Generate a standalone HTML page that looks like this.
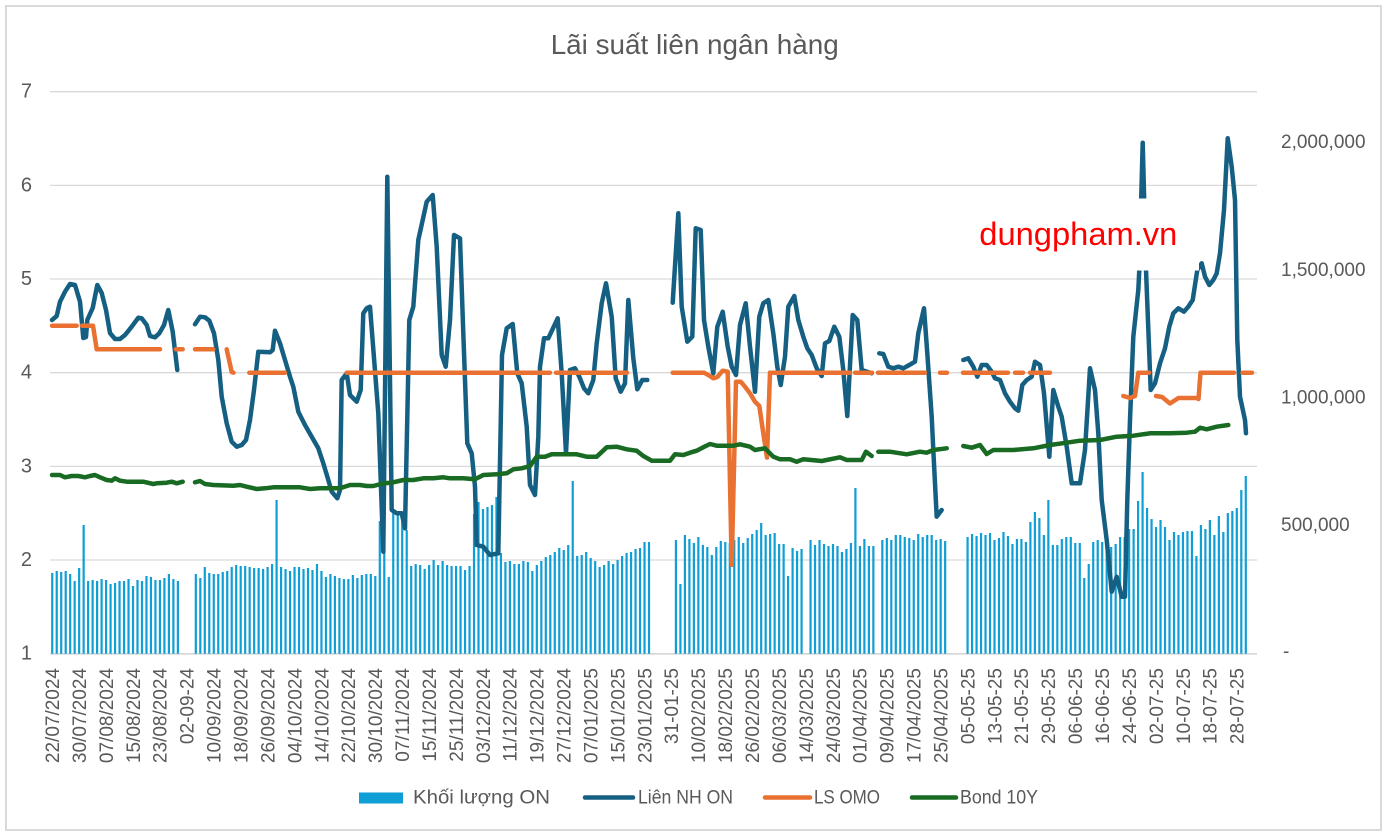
<!DOCTYPE html>
<html><head><meta charset="utf-8"><style>
html,body{margin:0;padding:0;background:#fff;}
svg{display:block;font-family:"Liberation Sans","DejaVu Sans",sans-serif;}
</style></head><body>
<svg width="1387" height="837" viewBox="0 0 1387 837" xmlns="http://www.w3.org/2000/svg">
<rect x="0" y="0" width="1387" height="837" fill="#fff"/>
<rect x="6" y="6" width="1375" height="824" fill="none" stroke="#d9d9d9" stroke-width="2"/>
<text x="550.7" y="54" font-size="28" fill="#595959" textLength="288" lengthAdjust="spacingAndGlyphs">Lãi suất liên ngân hàng</text>
<g stroke="#d9d9d9" stroke-width="1.3">
<line x1="50" y1="91.7" x2="1257" y2="91.7"/>
<line x1="50" y1="185.4" x2="1257" y2="185.4"/>
<line x1="50" y1="279" x2="1257" y2="279"/>
<line x1="50" y1="372.7" x2="1257" y2="372.7"/>
<line x1="50" y1="466.4" x2="1257" y2="466.4"/>
<line x1="50" y1="560" x2="1257" y2="560"/>
</g>
<line x1="50" y1="653.9" x2="1257" y2="653.9" stroke="#d9d9d9" stroke-width="1.8"/>
<g font-size="20" fill="#595959" text-anchor="end">
<text x="32" y="97.7">7</text>
<text x="32" y="191.4">6</text>
<text x="32" y="285">5</text>
<text x="32" y="378.7">4</text>
<text x="32" y="472.4">3</text>
<text x="32" y="566">2</text>
<text x="32" y="659.7">1</text>
</g>
<g font-size="19" fill="#595959">
<text x="1281" y="148.2">2,000,000</text>
<text x="1281" y="275.8">1,500,000</text>
<text x="1281" y="403.4">1,000,000</text>
<text x="1281" y="531">500,000</text>
<text x="1283" y="657.5">-</text>
</g>
<path fill="none" stroke="#0F9ED5" stroke-width="2.2" d="M52.24 653.7
V573V653.7m4.487 0V571V653.7m4.487 0V572V653.7m4.487 0V571V653.7m4.487 0V574V653.7m4.487 0V581V653.7m4.487 0V568V653.7m4.487 0V525V653.7m4.487 0V581V653.7m4.487 0V580V653.7m4.487 0
V581V653.7m4.487 0V579V653.7m4.487 0V580V653.7m4.487 0V584V653.7m4.487 0V583V653.7m4.487 0V581V653.7m4.487 0V581V653.7m4.487 0V579V653.7m4.487 0V586V653.7m4.487 0V580V653.7m4.487 0
V581V653.7m4.487 0V576V653.7m4.487 0V577V653.7m4.487 0V580V653.7m4.487 0V580V653.7m4.487 0V578V653.7m4.487 0V574V653.7m4.487 0V579V653.7m4.487 0V581V653.7m4.487 0
m4.487 0m4.487 0m4.487 0
V574V653.7m4.487 0V578V653.7m4.487 0V567V653.7m4.487 0V573V653.7m4.487 0V574V653.7m4.487 0V574V653.7m4.487 0V572V653.7m4.487 0V571V653.7m4.487 0V567V653.7m4.487 0V565V653.7m4.487 0
V566V653.7m4.487 0V566V653.7m4.487 0V567V653.7m4.487 0V568V653.7m4.487 0V568V653.7m4.487 0V569V653.7m4.487 0V567V653.7m4.487 0V564V653.7m4.487 0V500V653.7m4.487 0V567V653.7m4.487 0
V569V653.7m4.487 0V571V653.7m4.487 0V567V653.7m4.487 0V567V653.7m4.487 0V569V653.7m4.487 0V568V653.7m4.487 0V570V653.7m4.487 0V564V653.7m4.487 0V571V653.7m4.487 0V577V653.7m4.487 0
V574V653.7m4.487 0V576V653.7m4.487 0V578V653.7m4.487 0V579V653.7m4.487 0V579V653.7m4.487 0V575V653.7m4.487 0V578V653.7m4.487 0V575V653.7m4.487 0V574V653.7m4.487 0V574V653.7m4.487 0
V576V653.7m4.487 0V521V653.7m4.487 0V550V653.7m4.487 0V577V653.7m4.487 0V509V653.7m4.487 0V512V653.7m4.487 0V513V653.7m4.487 0V530V653.7m4.487 0V566V653.7m4.487 0V564V653.7m4.487 0
V565V653.7m4.487 0V569V653.7m4.487 0V565V653.7m4.487 0V560V653.7m4.487 0V565V653.7m4.487 0V561V653.7m4.487 0V565V653.7m4.487 0V566V653.7m4.487 0V566V653.7m4.487 0V566V653.7m4.487 0
V570V653.7m4.487 0V566V653.7m4.487 0V514V653.7m4.487 0V502V653.7m4.487 0V509V653.7m4.487 0V507V653.7m4.487 0V505V653.7m4.487 0V497V653.7m4.487 0V553V653.7m4.487 0V562V653.7m4.487 0
V561V653.7m4.487 0V564V653.7m4.487 0V564V653.7m4.487 0V561V653.7m4.487 0V562V653.7m4.487 0V571V653.7m4.487 0V565V653.7m4.487 0V561V653.7m4.487 0V557V653.7m4.487 0V555V653.7m4.487 0
V552V653.7m4.487 0V548V653.7m4.487 0V550V653.7m4.487 0V545V653.7m4.487 0V481V653.7m4.487 0V556V653.7m4.487 0V555V653.7m4.487 0V552V653.7m4.487 0V558V653.7m4.487 0V561V653.7m4.487 0
V567V653.7m4.487 0V565V653.7m4.487 0V561V653.7m4.487 0V564V653.7m4.487 0V560V653.7m4.487 0V556V653.7m4.487 0V553V653.7m4.487 0V552V653.7m4.487 0V549V653.7m4.487 0V548V653.7m4.487 0
V542V653.7m4.487 0V542V653.7m4.487 0
m4.487 0m4.487 0m4.487 0m4.487 0m4.487 0
V540V653.7m4.487 0V584V653.7m4.487 0V535V653.7m4.487 0V539V653.7m4.487 0V543V653.7m4.487 0V537V653.7m4.487 0V545V653.7m4.487 0V547V653.7m4.487 0V555V653.7m4.487 0V547V653.7m4.487 0
V541V653.7m4.487 0V542V653.7m4.487 0V543V653.7m4.487 0V540V653.7m4.487 0V537V653.7m4.487 0V543V653.7m4.487 0V538V653.7m4.487 0V534V653.7m4.487 0V530V653.7m4.487 0V523V653.7m4.487 0
V535V653.7m4.487 0V534V653.7m4.487 0V533V653.7m4.487 0V544V653.7m4.487 0V544V653.7m4.487 0V576V653.7m4.487 0V548V653.7m4.487 0V551V653.7m4.487 0V549V653.7m4.487 0
m4.487 0
V540V653.7m4.487 0V545V653.7m4.487 0V540V653.7m4.487 0V544V653.7m4.487 0V546V653.7m4.487 0V544V653.7m4.487 0V546V653.7m4.487 0V552V653.7m4.487 0V549V653.7m4.487 0V543V653.7m4.487 0
V488V653.7m4.487 0V546V653.7m4.487 0V539V653.7m4.487 0V546V653.7m4.487 0V546V653.7m4.487 0
m4.487 0
V540V653.7m4.487 0V538V653.7m4.487 0V540V653.7m4.487 0V535V653.7m4.487 0V535V653.7m4.487 0V537V653.7m4.487 0V538V653.7m4.487 0V540V653.7m4.487 0V534V653.7m4.487 0V537V653.7m4.487 0
V535V653.7m4.487 0V535V653.7m4.487 0V540V653.7m4.487 0V539V653.7m4.487 0V541V653.7m4.487 0
m4.487 0m4.487 0m4.487 0m4.487 0
V537V653.7m4.487 0V534V653.7m4.487 0V536V653.7m4.487 0V533V653.7m4.487 0V535V653.7m4.487 0V533V653.7m4.487 0V540V653.7m4.487 0V538V653.7m4.487 0V532V653.7m4.487 0V536V653.7m4.487 0
V544V653.7m4.487 0V539V653.7m4.487 0V539V653.7m4.487 0V542V653.7m4.487 0V522V653.7m4.487 0V512V653.7m4.487 0V518V653.7m4.487 0V535V653.7m4.487 0
V500V653.7m4.487 0V545V653.7m4.487 0V545V653.7m4.487 0V539V653.7m4.487 0V537V653.7m4.487 0V537V653.7m4.487 0V543V653.7m4.487 0V543V653.7m4.487 0V578V653.7m4.487 0V564V653.7m4.487 0
V542V653.7m4.487 0V540V653.7m4.487 0V542V653.7m4.487 0V545V653.7m4.487 0V547V653.7m4.487 0V544V653.7m4.487 0V537V653.7m4.487 0V537V653.7m4.487 0V529V653.7m4.487 0V529V653.7m4.487 0
V501V653.7m4.487 0V472V653.7m4.487 0V508V653.7m4.487 0V519V653.7m4.487 0V527V653.7m4.487 0V520V653.7m4.487 0V527V653.7m4.487 0V540V653.7m4.487 0V532V653.7m4.487 0V535V653.7m4.487 0
V532V653.7m4.487 0V531V653.7m4.487 0V531V653.7m4.487 0V556V653.7m4.487 0V525V653.7m4.487 0V529V653.7m4.487 0V520V653.7m4.487 0V535V653.7m4.487 0V516V653.7m4.487 0V532V653.7m4.487 0
V513V653.7m4.487 0V511V653.7m4.487 0V508V653.7m4.487 0V490V653.7m4.487 0V476V653.7"/>
<g fill="none" stroke-width="4.5" stroke-linejoin="round" stroke-linecap="round">
<path stroke="#156082" d="M52 320L56.7 316L60 301.7L65 291.7L70 284L75 285L80 301.7L83.3 338L86 337L87.3 320L92.7 308L97.3 285L101.7 293L106 310L110 333L115 339L120 339L125 335L131.7 326.7L138.3 317.7L141.7 318.3L146.7 325L150 336L155 337.3L159.3 333.3L164 325L168.3 310L172.7 331.7L177.3 370
M195 324.3L200 316.7L205 317.3L209.3 320.7L214 333.3L218.3 360L221.7 396.7L226.7 423.3L231.7 441.7L236.7 446.7L241.7 445L246 440L250 420L254 390L258.3 351.7L270 352.3L272.7 350L275 330.7L280 343.3L285 360L290 376.7L293.3 386.7L298.3 411.7L305 425L311.7 436.7L318.3 448.3L323.3 463.3L328.3 480L331.7 491.7L337.3 498.3L340 490L341.7 380L346.7 373.3L350 395L356.7 401.7L360.7 390L363.3 313.3L366.7 308.3L370 306.7L378.3 413.3L383.3 551.7L387.3 176.7L391.7 510L396.7 513.3L401.7 513.3L405 528.3L409.3 320L413.3 306.7L418.3 240L422.7 220L426.7 201.7L432.7 195L436.7 246.7L441.7 355L445.7 366.7L450 320L454 235L460 238.3L463.3 333.3L467.3 443.3L471.7 453.3L475 486.7L476.7 545L483.3 546.7L490 555L498.3 553.3L502 355L506.7 328.3L512.7 324L517.3 373.3L521.7 383.3L526.7 426.7L530 485L535 495L538.3 436.7L540 366.7L544 338.3L548.3 338.3L557.7 318.3L561.7 373.3L566 453.3L570 370L575 368.3L579.3 376.7L584 388.3L588.3 393.3L593.3 380L596.7 343.3L601.7 303.3L606 283.3L611.7 316.7L615.7 378.3L620.7 391.7L625 383.3L628.3 300L633.3 358.3L637.3 389.3L642.3 380L647.3 380
M672.7 302.7L678.3 213.3L681.7 306.7L687.3 341.7L692.3 336.7L695.7 228.3L700.7 230L704 320L708.3 346.7L713.3 373.3L717.3 326.7L722.7 311.7L727.7 346.7L731.7 366.7L736 375L740 325L745.7 303.3L750 346.7L755 391.7L759.3 316.7L763.3 303.3L768.3 300L773.3 333.3L777.3 366.7L780.7 385L785 356.7L788.3 306.7L794.3 296L798.3 320L803.3 336.7L807.3 348.3L811.7 355L816.7 368.3L821.7 376L825 343.3L829.3 341L834.3 326.7L839.3 336.7L843.3 370L847.3 416L852.7 315L857.3 320L861.7 370L871.7 373.3
M879.3 353.3L883.3 354L888.3 366.7L893.3 368.3L898.3 366.7L903.3 368.3L909.3 365L915 361.7L918.3 333.3L924 308.3L927.3 353.3L931.7 416.7L933.3 450L936.7 516.7L941.7 510
M963.3 360L968.3 358.3L973.3 366.7L977.3 376.7L981.7 365L986.7 365L991.7 371.7L995 378.3L1000 380L1005 393.3L1010 401.7L1015 408.3L1018.3 410.7L1022.3 385L1026.7 380L1031.7 376.7L1035 361.7L1040 365L1044 393.3L1049.3 456.7L1053.3 390L1058.3 406.7L1061.7 416.7L1066.7 446.7L1071.7 483.3L1080 483.3L1085 450L1090 368.3L1095 390L1098.3 433.3L1101.7 500L1106.7 540L1111.7 591.7L1116.7 576.7L1121.7 596.7L1125 596.7L1127.3 500L1130 420L1133.3 336.7L1138.3 290L1139.3 270L1142.7 142.7L1146 270L1150.7 390L1155 383.3L1160 363.3L1165 348.3L1169.3 326.7L1173.3 313.3L1178.3 308.3L1184 311.7L1188.3 306.7L1192.7 300L1197.3 270L1201.7 263.3L1205 276.7L1209.3 285L1213.3 280L1216.7 273.3L1220 253.3L1224 210L1227.7 138.3L1231.7 166.7L1235 200L1237.3 340L1240 396.7L1245 420L1246 433.3"/>
<path stroke="#E97132" d="M52 325.7H76.7M82 325.7H93L96.7 349.3H160M176 349.3H182.7M195 349.3H213.3M226.7 349.3L231.7 372L233.5 372.7M249.3 372.7H285M346.7 372.7H550M556 372.7H627M672.7 372.7H704L708.3 375L713.3 378.3L717.3 377L722.7 370.7L727.7 371.7L731.7 565L736 381.7L740.7 381.7L745 386.7L750 393.3L755 401.7L759.3 406L763.3 433.3L767 457.5L770 372.7H850M855 372.7H872M878 372.7H925M940 372.7H947M963 372.7H1008M1015 372.7H1023M1030 372.7H1050M1123.3 396L1130 398L1135 396L1138.3 372.7H1149M1156 396L1162 397L1170 403.5L1178.5 398H1196.5L1198.5 399L1200.5 372.7H1234M1242.5 372.7H1252"/>
<path stroke="#196B24" d="M52 475L60 475L65 477.3L71.7 476L78.3 476L85 477.3L90 476L95 475L100 477.3L106.7 480L111.7 480.7L115 478.3L120 480.7L126.7 481.7L143.3 481.7L153.3 484L156.7 483.3L166.7 482.7L171.7 481.7L176.7 483.3L182.7 481.7
M195 482.3L200 481L205 484L213.3 485L233.3 485.7L240 485L246.7 486.7L256.7 489L265 488.3L273.3 487.3L300 487.3L310 489L320 488.3L340 488.3L350 485L360 485L366.7 486L373.3 486L383.3 483.3L391.7 482.7L403.3 480L413.3 480L423.3 478.3L433.3 478.3L443.3 477.3L450 478.3L463.3 478.3L475 479.3L483.3 475L496.7 474.3L506.7 473.3L513.3 469.3L521.7 468.3L530 466L536.7 456.7L545 456.7L551.7 454.3L576.7 454.3L586.7 456.7L596.7 456.7L606.7 447.3L616.7 446.7L626.7 449.3L636.7 450.7L643.3 456L651.7 460.7L670 460.7L675 454.3L683.3 455L690 452.7L696.7 450.7L703.3 447.3L710 444L716.7 445.7L733.3 445.7L740 444.3L750 446.7L755 450L765 448.3L773.3 456.7L780 459.3L790 459.3L796.7 461.7L803.3 459.3L821.7 461L840 457.3L846.7 460L861.7 460L866 451.7L871.7 456
M878.3 451.7L890 451.7L906.7 454.3L920 451.7L926.7 452.7L933.3 450L946.7 448.3
M963.3 446L971.7 447.7L980 445L986.7 454L993.3 450L1013.3 450L1033.3 448.3L1050 445L1066.7 442.7L1080 440.7L1100 440L1116.7 436.7L1133.3 435.7L1150 433.3L1170 433.3L1186.7 432.7L1195 431.7L1200 427.7L1206.7 429.3L1216.7 426.7L1228.3 425"/>
</g>
<rect x="968" y="198.5" width="231" height="72" fill="#fff"/>
<text x="979.3" y="245" font-size="32" fill="#FF0000" textLength="198" lengthAdjust="spacingAndGlyphs">dungpham.vn</text>
<g font-size="19" fill="#595959" text-anchor="end">
<text transform="translate(59,668) rotate(-90)">22/07/2024</text>
<text transform="translate(86,668) rotate(-90)">30/07/2024</text>
<text transform="translate(112.9,668) rotate(-90)">07/08/2024</text>
<text transform="translate(139.8,668) rotate(-90)">15/08/2024</text>
<text transform="translate(166.7,668) rotate(-90)">23/08/2024</text>
<text transform="translate(193.6,668) rotate(-90)">02-09-24</text>
<text transform="translate(220.6,668) rotate(-90)">10/09/2024</text>
<text transform="translate(247.5,668) rotate(-90)">18/09/2024</text>
<text transform="translate(274.4,668) rotate(-90)">26/09/2024</text>
<text transform="translate(301.3,668) rotate(-90)">04/10/2024</text>
<text transform="translate(328.3,668) rotate(-90)">14/10/2024</text>
<text transform="translate(355.2,668) rotate(-90)">22/10/2024</text>
<text transform="translate(382.1,668) rotate(-90)">30/10/2024</text>
<text transform="translate(409,668) rotate(-90)">07/11/2024</text>
<text transform="translate(435.9,668) rotate(-90)">15/11/2024</text>
<text transform="translate(462.9,668) rotate(-90)">25/11/2024</text>
<text transform="translate(489.8,668) rotate(-90)">03/12/2024</text>
<text transform="translate(516.7,668) rotate(-90)">11/12/2024</text>
<text transform="translate(543.6,668) rotate(-90)">19/12/2024</text>
<text transform="translate(570.6,668) rotate(-90)">27/12/2024</text>
<text transform="translate(597.5,668) rotate(-90)">07/01/2025</text>
<text transform="translate(624.4,668) rotate(-90)">15/01/2025</text>
<text transform="translate(651.3,668) rotate(-90)">23/01/2025</text>
<text transform="translate(678.2,668) rotate(-90)">31-01-25</text>
<text transform="translate(705.2,668) rotate(-90)">10/02/2025</text>
<text transform="translate(732.1,668) rotate(-90)">18/02/2025</text>
<text transform="translate(759,668) rotate(-90)">26/02/2025</text>
<text transform="translate(785.9,668) rotate(-90)">06/03/2025</text>
<text transform="translate(812.9,668) rotate(-90)">14/03/2025</text>
<text transform="translate(839.8,668) rotate(-90)">24/03/2025</text>
<text transform="translate(866.7,668) rotate(-90)">01/04/2025</text>
<text transform="translate(893.6,668) rotate(-90)">09/04/2025</text>
<text transform="translate(920.5,668) rotate(-90)">17/04/2025</text>
<text transform="translate(947.5,668) rotate(-90)">25/04/2025</text>
<text transform="translate(974.4,668) rotate(-90)">05-05-25</text>
<text transform="translate(1001.3,668) rotate(-90)">13-05-25</text>
<text transform="translate(1028.2,668) rotate(-90)">21-05-25</text>
<text transform="translate(1055.2,668) rotate(-90)">29-05-25</text>
<text transform="translate(1082.1,668) rotate(-90)">06-06-25</text>
<text transform="translate(1109,668) rotate(-90)">16-06-25</text>
<text transform="translate(1135.9,668) rotate(-90)">24-06-25</text>
<text transform="translate(1162.8,668) rotate(-90)">02-07-25</text>
<text transform="translate(1189.8,668) rotate(-90)">10-07-25</text>
<text transform="translate(1216.7,668) rotate(-90)">18-07-25</text>
<text transform="translate(1243.6,668) rotate(-90)">28-07-25</text>
</g>
<rect x="359" y="792.5" width="44" height="11" fill="#0F9ED5"/>
<g font-size="19" fill="#595959">
<text x="413" y="803.5" textLength="137" lengthAdjust="spacingAndGlyphs">Khối lượng ON</text>
<text x="638" y="803.5" textLength="95" lengthAdjust="spacingAndGlyphs">Liên NH ON</text>
<text x="814" y="803.5" textLength="66" lengthAdjust="spacingAndGlyphs">LS OMO</text>
<text x="960" y="803.5" textLength="78" lengthAdjust="spacingAndGlyphs">Bond 10Y</text>
</g>
<g stroke-width="4.5" stroke-linecap="round">
<line x1="585" y1="797.5" x2="633" y2="797.5" stroke="#156082"/>
<line x1="765" y1="797.5" x2="810" y2="797.5" stroke="#E97132"/>
<line x1="912" y1="797.5" x2="956" y2="797.5" stroke="#196B24"/>
</g>
</svg>
</body></html>
